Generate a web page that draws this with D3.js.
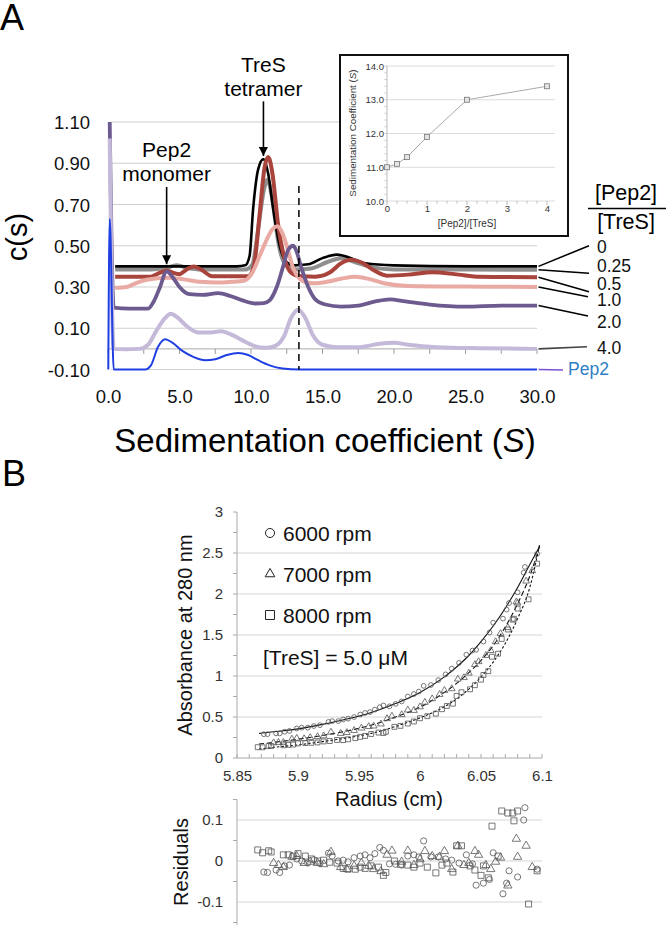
<!DOCTYPE html>
<html><head><meta charset="utf-8">
<script src="https://cdn.jsdelivr.net/npm/d3@7"></script>
<style>
body{margin:0;background:#fff}
svg{display:block}
text{font-family:Arial,"Liberation Sans",Helvetica,sans-serif}
</style>
</head><body>
<svg id="c" width="666" height="925"></svg>
<script>
// ================= DATA =================
// Panel A : c(s) distributions, [s, c(s)] pairs
const ratioLabels = ["0","0.25","0.5","1.0","2.0","4.0","Pep2"];
const cs_0 = [[0.5,0.40],[3,0.40],[6,0.40],[9.0,0.40],[9.6,0.405],[9.9,0.45],[10.15,0.68],[10.5,0.87],[10.87,0.92],[11.2,0.85],[11.55,0.68],[12.0,0.50],[12.5,0.42],[13.0,0.405],[14.0,0.41],[15.0,0.44],[16.0,0.457],[17.0,0.44],[18.0,0.415],[20,0.405],[25,0.40],[30,0.40]];
const cs_025 = [[0.5,0.385],[3,0.385],[4.0,0.392],[4.8,0.405],[5.6,0.392],[6.5,0.385],[9.6,0.385],[10.1,0.41],[10.5,0.58],[10.9,0.77],[11.15,0.82],[11.5,0.72],[11.9,0.52],[12.4,0.41],[13.2,0.385],[14.2,0.39],[15.3,0.42],[16.3,0.44],[17.3,0.42],[18.5,0.395],[20,0.385],[30,0.384]];
const cs_05 = [[0.5,0.35],[3.0,0.35],[3.6,0.368],[4.1,0.38],[4.6,0.368],[5.0,0.362],[5.5,0.385],[6.0,0.40],[6.5,0.385],[7.3,0.352],[9.8,0.352],[10.2,0.40],[10.6,0.65],[10.95,0.88],[11.2,0.93],[11.5,0.85],[11.9,0.60],[12.3,0.45],[12.8,0.37],[13.5,0.352],[14.5,0.35],[15.5,0.37],[16.3,0.415],[17.0,0.432],[17.7,0.42],[18.5,0.385],[19.5,0.355],[21,0.36],[22.7,0.372],[24.5,0.36],[26,0.35],[30,0.347]];
const cs_1 = [[0.5,0.296],[1.3,0.30],[2.0,0.32],[2.7,0.335],[4.2,0.345],[5.3,0.337],[6.5,0.325],[7.6,0.322],[8.6,0.325],[9.5,0.33],[10.1,0.37],[10.6,0.45],[11.1,0.53],[11.5,0.58],[11.84,0.594],[12.2,0.56],[12.5,0.50],[12.96,0.39],[13.4,0.34],[13.9,0.322],[14.5,0.318],[15.3,0.325],[16.3,0.34],[17.3,0.35],[18.3,0.338],[19.3,0.318],[21,0.305],[25,0.302],[30,0.30]];
const cs_2 = [[0.12,1.10],[0.4,0.20],[1.5,0.195],[2.8,0.195],[3.2,0.23],[3.64,0.30],[4.1,0.376],[4.55,0.345],[5.0,0.30],[5.7,0.265],[6.6,0.262],[7.7,0.27],[8.6,0.255],[9.4,0.235],[10.3,0.22],[10.9,0.222],[11.3,0.235],[11.8,0.30],[12.25,0.40],[12.6,0.48],[12.95,0.50],[13.2,0.47],[13.45,0.41],[14.0,0.30],[14.5,0.24],[15.2,0.215],[16.3,0.205],[17.5,0.21],[18.7,0.23],[19.7,0.24],[20.8,0.23],[22.5,0.215],[25,0.205],[27.5,0.21],[30,0.21]];
const cs_4 = [[0.12,1.02],[0.4,0.0],[1.2,-0.002],[2.2,0.0],[2.8,0.02],[3.4,0.09],[4.0,0.15],[4.4,0.17],[4.9,0.15],[5.5,0.11],[6.3,0.08],[7.2,0.08],[7.9,0.085],[8.6,0.07],[9.3,0.045],[10.2,0.015],[11.0,0.005],[11.7,0.015],[12.3,0.06],[12.8,0.15],[13.3,0.19],[13.8,0.15],[14.3,0.07],[15.0,0.02],[16.0,0.008],[17.5,0.008],[19.0,0.025],[20.0,0.03],[21.0,0.02],[23,0.008],[26,0.003],[30,0.0]];
const cs_pep2 = [[0.02,-0.10],[0.12,0.63],[0.4,-0.10],[1,-0.10],[2.6,-0.10],[3.0,-0.08],[3.5,0.01],[4.0,0.047],[4.5,0.03],[5.2,-0.01],[6.0,-0.04],[6.8,-0.055],[7.5,-0.05],[8.3,-0.03],[9.1,-0.02],[9.8,-0.03],[10.5,-0.055],[11.3,-0.08],[12.2,-0.095],[13.4,-0.10],[30,-0.10]];
const yTicksA = [-0.1,0.1,0.3,0.5,0.7,0.9,1.1];
const xTicksA = [0,5,10,15,20,25,30];

// Inset
const insetRatio = [0,0.25,0.5,1,2,4];
const insetSed = [11.0,11.1,11.3,11.9,13.0,13.4];
const insetYTicks = [10,11,12,13,14];
const insetXTicks = [0,1,2,3,4];

// Panel B : equilibrium data, radius (cm), absorbance, residual
const r6000 = [5.872,5.875,5.882,5.885,5.889,5.893,5.899,5.903,5.908,5.913,5.918,5.925,5.928,5.933,5.937,5.941,5.946,5.951,5.955,5.959,5.963,5.967,5.970,5.975,5.980,5.985,5.990,5.995,5.999,6.003,6.009,6.015,6.021,6.026,6.032,6.038,6.043,6.046,6.052,6.057,6.060,6.068,6.071,6.073,6.080,6.085,6.086,6.096];
const a6000 = [0.29,0.29,0.30,0.30,0.32,0.33,0.36,0.37,0.37,0.39,0.40,0.44,0.45,0.45,0.47,0.48,0.50,0.53,0.55,0.56,0.59,0.62,0.64,0.63,0.66,0.69,0.75,0.78,0.81,0.88,0.89,0.95,1.02,1.09,1.16,1.26,1.31,1.32,1.42,1.53,1.65,1.70,1.81,1.89,2.02,2.26,2.33,2.49];
const res6000 = [-0.027,-0.028,-0.022,-0.028,-0.012,-0.010,0.005,0.000,-0.005,0.003,-0.006,0.019,0.012,0.000,0.002,-0.002,0.008,0.012,0.015,0.008,0.018,0.033,0.026,-0.007,-0.008,-0.010,0.012,0.015,0.010,0.049,0.010,0.010,0.005,0.002,-0.005,0.015,-0.007,-0.059,-0.054,-0.045,0.020,-0.080,-0.054,-0.024,-0.039,0.100,0.130,-0.020];
const r7000 = [5.880,5.884,5.888,5.895,5.899,5.905,5.910,5.916,5.921,5.927,5.935,5.940,5.946,5.952,5.958,5.962,5.968,5.973,5.977,5.985,5.990,5.995,6.000,6.004,6.010,6.016,6.020,6.026,6.031,6.036,6.040,6.045,6.048,6.054,6.058,6.062,6.066,6.072,6.079,6.080,6.087,6.092];
const a7000 = [0.185,0.19,0.19,0.23,0.24,0.235,0.25,0.26,0.27,0.315,0.30,0.31,0.336,0.365,0.383,0.39,0.415,0.48,0.51,0.528,0.585,0.58,0.624,0.679,0.722,0.775,0.824,0.845,0.962,0.98,1.035,1.139,1.175,1.25,1.31,1.418,1.518,1.59,1.904,1.89,2.157,2.285];
const res7000 = [-0.005,-0.010,-0.015,0.010,0.012,-0.005,-0.002,-0.005,-0.008,0.022,-0.015,-0.020,-0.012,-0.005,-0.012,-0.020,-0.025,0.015,0.025,-0.002,0.025,-0.010,0.004,0.024,0.012,0.010,0.024,-0.020,0.037,-0.010,-0.005,0.024,0.015,-0.010,-0.020,-0.002,0.008,-0.060,0.054,0.010,0.037,-0.015];
const r8000 = [5.867,5.871,5.876,5.878,5.888,5.892,5.896,5.900,5.906,5.911,5.916,5.921,5.926,5.932,5.937,5.941,5.947,5.951,5.955,5.960,5.966,5.970,5.972,5.979,5.984,5.990,5.995,6.000,6.006,6.013,6.018,6.022,6.027,6.030,6.034,6.041,6.045,6.050,6.052,6.056,6.059,6.064,6.067,6.072,6.076,6.077,6.080,6.089,6.096];
const a8000 = [0.132,0.13,0.145,0.147,0.155,0.16,0.164,0.178,0.182,0.185,0.19,0.202,0.207,0.22,0.219,0.228,0.242,0.258,0.269,0.293,0.31,0.305,0.32,0.38,0.392,0.42,0.445,0.485,0.51,0.541,0.595,0.635,0.663,0.757,0.802,0.838,0.888,0.955,1.013,1.059,1.235,1.272,1.452,1.567,1.687,1.698,1.822,1.935,2.37];
const res8000 = [0.027,0.020,0.025,0.022,0.015,0.015,0.012,0.018,0.012,0.005,0.000,0.002,-0.003,-0.005,-0.018,-0.020,-0.020,-0.015,-0.018,-0.012,-0.015,-0.035,-0.028,0.000,-0.008,-0.010,-0.015,-0.005,-0.015,-0.029,-0.010,-0.005,-0.027,0.037,0.037,-0.012,-0.022,-0.035,-0.012,-0.041,0.085,0.012,0.122,0.117,0.117,0.098,0.122,-0.105,-0.024];
// fitted curves
const fitR = [5.868,5.88,5.90,5.92,5.94,5.96,5.98,6.00,6.02,6.03,6.04,6.05,6.06,6.07,6.08,6.09,6.098];
const fit6000 = [0.30,0.32,0.355,0.41,0.475,0.555,0.665,0.80,0.99,1.11,1.25,1.42,1.61,1.83,2.08,2.36,2.58];
const fit7000 = [0.17,0.19,0.23,0.275,0.33,0.40,0.50,0.62,0.80,0.91,1.04,1.19,1.37,1.60,1.88,2.22,2.58];
const fit8000 = [0.11,0.13,0.16,0.20,0.245,0.30,0.385,0.49,0.625,0.72,0.84,0.99,1.17,1.40,1.70,2.08,2.60];
const speedLabels = ["6000 rpm","7000 rpm","8000 rpm"];
const yTicksB = [0,0.5,1,1.5,2,2.5,3];
const xTicksB = [5.85,5.9,5.95,6,6.05,6.1];
const yTicksR = [-0.1,0,0.1];

// ================= DRAW =================
const svg = d3.select('#c');
const FONT = 'Arial, "Liberation Sans", Helvetica, sans-serif';

// ---------- Panel A ----------
const xA = d3.scaleLinear().domain([0,30]).range([108,537]);
const yA = d3.scaleLinear().domain([-0.1,1.1]).range([369.5,122]);

svg.append('text').attr('x',0).attr('y',30).attr('font-size',36).text('A');

const gA = svg.append('g');
gA.selectAll('line.grid').data(yTicksA).join('line')
  .attr('x1',xA(0)+3).attr('x2',xA(30)).attr('y1',d=>yA(d)).attr('y2',d=>yA(d))
  .attr('stroke','#cfcfcf').attr('stroke-width',1.2);
gA.append('line').attr('x1',xA(0)).attr('x2',xA(30)).attr('y1',yA(0)).attr('y2',yA(0)).attr('stroke','#aaa');
gA.selectAll('line.xt').data(d3.range(0,30.01,2.5)).join('line')
  .attr('x1',d=>xA(d)).attr('x2',d=>xA(d)).attr('y1',yA(0)).attr('y2',yA(0)+5).attr('stroke','#999');

const ayA = gA.append('g').attr('transform','translate(90,0)')
  .call(d3.axisLeft(yA).tickValues(yTicksA).tickSize(0).tickPadding(0).tickFormat(d=>d.toFixed(2)));
ayA.select('.domain').remove();
ayA.selectAll('text').attr('font-size',18.5).attr('fill','#111').attr('font-family',FONT).attr('dy','0.36em');
const axA = gA.append('g').attr('transform','translate(0,389.5)')
  .call(d3.axisBottom(xA).tickValues(xTicksA).tickSize(0).tickPadding(0).tickFormat(d=>d.toFixed(1)));
axA.select('.domain').remove();
axA.selectAll('text').attr('font-size',18.5).attr('fill','#111').attr('font-family',FONT);

svg.append('text').attr('transform','translate(27,237) rotate(-90)').attr('text-anchor','middle')
  .attr('font-size',29).text('c(s)');
const xt = svg.append('text').attr('x',325).attr('y',452).attr('text-anchor','middle').attr('font-size',33);
xt.append('tspan').text('Sedimentation coefficient (');
xt.append('tspan').attr('font-style','italic').text('S');
xt.append('tspan').text(')');

const seriesA = [cs_0,cs_025,cs_05,cs_1,cs_2,cs_4,cs_pep2];
const styleA = [
  {c:'#000000',w:2.6},{c:'#8e8e8e',w:4},{c:'#a9443d',w:4},{c:'#e9aaa4',w:4},
  {c:'#6d5a8e',w:3.8},{c:'#c4b9d9',w:4},{c:'#1f3fe3',w:2}];
const drawOrder = [1,0,2,3,4,5,6];
const lineA = d3.line().x(d=>xA(d[0])).y(d=>yA(d[1])).curve(d3.curveMonotoneX);
drawOrder.forEach(i=>{
  gA.append('path').attr('d',lineA(seriesA[i])).attr('fill','none')
    .attr('stroke',styleA[i].c).attr('stroke-width',styleA[i].w).attr('stroke-linejoin','round');
});

gA.append('line').attr('x1',xA(13.35)).attr('x2',xA(13.35)).attr('y1',yA(0.79)).attr('y2',yA(-0.1))
  .attr('stroke','#000').attr('stroke-width',1.5).attr('stroke-dasharray','7,5');

const defs = svg.append('defs');
defs.append('marker').attr('id','ah').attr('viewBox','0 0 10 10').attr('refX',10).attr('refY',5)
  .attr('markerWidth',9).attr('markerHeight',9).attr('markerUnits','userSpaceOnUse').attr('orient','auto')
  .append('path').attr('d','M0,0 L10,5 L0,10 Z').attr('fill','#000');
function arrow(s,c1,c2){
  gA.append('line').attr('x1',xA(s)).attr('x2',xA(s)).attr('y1',yA(c1)).attr('y2',yA(c2))
    .attr('stroke','#000').attr('stroke-width',1.6).attr('marker-end','url(#ah)');
}
arrow(10.87,1.20,0.935);
arrow(4.1,0.785,0.41);
svg.append('text').attr('x',xA(10.87)).attr('y',72).attr('text-anchor','middle').attr('font-size',21).text('TreS');
svg.append('text').attr('x',xA(10.87)).attr('y',96).attr('text-anchor','middle').attr('font-size',21).text('tetramer');
svg.append('text').attr('x',xA(4.1)).attr('y',157).attr('text-anchor','middle').attr('font-size',21).text('Pep2');
svg.append('text').attr('x',xA(4.1)).attr('y',181).attr('text-anchor','middle').attr('font-size',21).text('monomer');

svg.append('text').attr('x',626).attr('y',200).attr('text-anchor','middle').attr('font-size',21.5).text('[Pep2]');
svg.append('line').attr('x1',588).attr('x2',666).attr('y1',208.5).attr('y2',208.5).attr('stroke','#000').attr('stroke-width',1.6);
svg.append('text').attr('x',626).attr('y',229).attr('text-anchor','middle').attr('font-size',21.5).text('[TreS]');
const labelY = [253,272,289.5,306,328,354,375];
const leadEndY = [245.7,273.3,291.7,296.7,316,346.7,370];
const leadEndX = [589,589,589,588,588,587,563];
const leadColor = ['#000','#000','#000','#000','#000','#444','#7b52d6'];
seriesA.forEach((ser,i)=>{
  const last = ser[ser.length-1];
  svg.append('line').attr('x1',xA(30)+1.5).attr('y1',yA(last[1])).attr('x2',leadEndX[i]).attr('y2',leadEndY[i])
    .attr('stroke',leadColor[i]).attr('stroke-width',1.6);
  svg.append('text').attr('x',i===6?568:597).attr('y',labelY[i]).attr('font-size',17.5)
    .attr('fill',i===6?'#2f7fc6':'#111').text(ratioLabels[i]);
});

// ---------- Inset ----------
const xI = d3.scaleLinear().domain([0,4]).range([387,547]);
const yI = d3.scaleLinear().domain([10,14]).range([201,66]);
const gI = svg.append('g');
gI.append('rect').attr('x',340).attr('y',55).attr('width',228).attr('height',181)
  .attr('fill','#fff').attr('stroke','#111').attr('stroke-width',2);
gI.selectAll('line.ig').data(insetYTicks).join('line')
  .attr('x1',xI(0)).attr('x2',555).attr('y1',d=>yI(d)).attr('y2',d=>yI(d)).attr('stroke','#dcdcdc');
gI.append('line').attr('x1',xI(0)).attr('x2',xI(0)).attr('y1',yI(14)).attr('y2',yI(10)).attr('stroke','#bbb');
gI.selectAll('line.ixt').data(d3.range(0,4.01,0.25)).join('line')
  .attr('x1',d=>xI(d)).attr('x2',d=>xI(d)).attr('y1',yI(10)).attr('y2',d=>yI(10)+(d%1===0?4:2.5)).attr('stroke','#bbb');
gI.selectAll('line.iyt').data(d3.range(10,14.01,0.2)).join('line')
  .attr('x1',xI(0)-2.5).attr('x2',xI(0)).attr('y1',d=>yI(d)).attr('y2',d=>yI(d)).attr('stroke','#ccc');
const ayI = gI.append('g').attr('transform','translate(384,0)')
  .call(d3.axisLeft(yI).tickValues(insetYTicks).tickSize(0).tickPadding(0).tickFormat(d=>d.toFixed(1)));
ayI.select('.domain').remove();
ayI.selectAll('text').attr('font-size',9.5).attr('fill','#333').attr('font-family',FONT);
const axI = gI.append('g').attr('transform','translate(0,205.5)')
  .call(d3.axisBottom(xI).tickValues(insetXTicks).tickSize(0).tickPadding(0).tickFormat(d=>String(d)));
axI.select('.domain').remove();
axI.selectAll('text').attr('font-size',9.5).attr('fill','#333').attr('font-family',FONT);
gI.append('text').attr('x',xI(2)).attr('y',227).attr('text-anchor','middle').attr('font-size',10).attr('fill','#333').text('[Pep2]/[TreS]');
const it = gI.append('text').attr('transform','translate(356,133) rotate(-90)').attr('text-anchor','middle').attr('font-size',9.8).attr('fill','#333');
it.append('tspan').text('Sedimentation Coefficient (');
it.append('tspan').attr('font-style','italic').text('S');
it.append('tspan').text(')');
const insetPts = insetRatio.map((r,i)=>[r,insetSed[i]]);
gI.append('path').attr('d',d3.line().x(d=>xI(d[0])).y(d=>yI(d[1]))(insetPts)).attr('fill','none').attr('stroke','#aaa').attr('stroke-width',1);
gI.selectAll('rect.ip').data(insetPts).join('rect')
  .attr('x',d=>xI(d[0])-2.5).attr('y',d=>yI(d[1])-2.5).attr('width',5).attr('height',5)
  .attr('fill','#e4e4e4').attr('stroke','#777').attr('stroke-width',0.8);

// ---------- Panel B ----------
svg.append('text').attr('x',2).attr('y',486).attr('font-size',36).text('B');
const xB = d3.scaleLinear().domain([5.85,6.1]).range([237,542]);
const yB = d3.scaleLinear().domain([0,3]).range([758,512]);
const yR = d3.scaleLinear().domain([-0.15,0.15]).range([922.5,799.5]);
const gB = svg.append('g');
gB.selectAll('line.bg').data(yTicksB.slice(1,-1)).join('line')
  .attr('x1',xB(5.85)).attr('x2',xB(6.1)).attr('y1',d=>yB(d)).attr('y2',d=>yB(d)).attr('stroke','#d6d6d6').attr('stroke-width',1.2);
gB.append('line').attr('x1',xB(5.85)).attr('x2',xB(5.85)).attr('y1',yB(3)).attr('y2',yB(0)).attr('stroke','#aaa');
gB.append('line').attr('x1',xB(5.85)).attr('x2',xB(6.1)).attr('y1',yB(0)).attr('y2',yB(0)).attr('stroke','#aaa');
gB.selectAll('line.byt').data(d3.range(0,3.01,0.25)).join('line')
  .attr('x1',xB(5.85)-4).attr('x2',xB(5.85)).attr('y1',d=>yB(d)).attr('y2',d=>yB(d)).attr('stroke','#aaa');
gB.selectAll('line.bxt').data(d3.range(0,25.5,1)).join('line')
  .attr('x1',d=>xB(5.85+d*0.01)).attr('x2',d=>xB(5.85+d*0.01)).attr('y1',yB(0)-4).attr('y2',yB(0)).attr('stroke','#aaa');
const ayB = gB.append('g').attr('transform','translate(223,0)')
  .call(d3.axisLeft(yB).tickValues(yTicksB).tickSize(0).tickPadding(0).tickFormat(d=>String(d)));
ayB.select('.domain').remove();
ayB.selectAll('text').attr('font-size',15).attr('fill','#333').attr('font-family',FONT);
const axB = gB.append('g').attr('transform','translate(0,770)')
  .call(d3.axisBottom(xB).tickValues(xTicksB).tickSize(0).tickPadding(0).tickFormat(d=>String(+d.toFixed(2))));
axB.select('.domain').remove();
axB.selectAll('text').attr('font-size',15).attr('fill','#333').attr('font-family',FONT);
svg.append('text').attr('transform','translate(192,635) rotate(-90)').attr('text-anchor','middle').attr('font-size',20).attr('fill','#111').text('Absorbance at 280 nm');
svg.append('text').attr('x',389).attr('y',806).attr('text-anchor','middle').attr('font-size',20).attr('fill','#111').text('Radius (cm)');

const fits = [fit6000,fit7000,fit8000];
const dashes = [null,'5,3','2.5,2'];
const lineB = d3.line().x(d=>xB(d[0])).y(d=>yB(d[1])).curve(d3.curveMonotoneX);
fits.forEach((f,k)=>{
  gB.append('path').attr('d',lineB(fitR.map((r,i)=>[r,f[i]]))).attr('fill','none')
    .attr('stroke','#111').attr('stroke-width',1.1).attr('stroke-dasharray',dashes[k]);
});
const symTypes = [d3.symbolCircle,d3.symbolTriangle,d3.symbolSquare];
const symSizeMain = [18,20,24];
const symSizeRes = [30,30,36];
const datasets = [[r6000,a6000,res6000],[r7000,a7000,res7000],[r8000,a8000,res8000]];
datasets.forEach((ds,k)=>{
  const pts = ds[0].map((r,i)=>({r:r,a:ds[1][i],e:ds[2][i]}));
  gB.selectAll('path.m'+k).data(pts).join('path')
    .attr('transform',d=>`translate(${xB(d.r)},${yB(d.a)})`)
    .attr('d',d3.symbol().type(symTypes[k]).size(symSizeMain[k]))
    .attr('fill','none').attr('stroke','#555').attr('stroke-width',0.8);
});
const legY = [533,574,615];
speedLabels.forEach((lab,k)=>{
  gB.append('path').attr('transform',`translate(270,${legY[k]})`)
    .attr('d',d3.symbol().type(symTypes[k]).size(k===0?64:(k===1?40:80)))
    .attr('fill','none').attr('stroke','#222').attr('stroke-width',1);
  gB.append('text').attr('x',283).attr('y',legY[k]+8).attr('font-size',21).attr('fill','#111').text(lab);
});
gB.append('text').attr('x',263).attr('y',665).attr('font-size',21).attr('fill','#111').text('[TreS] = 5.0 \u03bcM');

// ---------- Residuals ----------
const gR = svg.append('g');
gR.selectAll('line.rg').data(yTicksR).join('line')
  .attr('x1',xB(5.85)).attr('x2',xB(6.1)).attr('y1',d=>yR(d)).attr('y2',d=>yR(d)).attr('stroke','#d6d6d6').attr('stroke-width',1.2);
gR.append('line').attr('x1',xB(5.85)).attr('x2',xB(5.85)).attr('y1',yR(0.15)).attr('y2',925).attr('stroke','#aaa');
gR.selectAll('line.ryt').data([-0.15,-0.05,0.05,0.15]).join('line')
  .attr('x1',xB(5.85)-4).attr('x2',xB(5.85)).attr('y1',d=>yR(d)).attr('y2',d=>yR(d)).attr('stroke','#aaa');
const ayR = gR.append('g').attr('transform','translate(223,0)')
  .call(d3.axisLeft(yR).tickValues(yTicksR).tickSize(0).tickPadding(0).tickFormat(d=>d===0?'0':d.toFixed(1)));
ayR.select('.domain').remove();
ayR.selectAll('text').attr('font-size',15).attr('fill','#333').attr('font-family',FONT);
svg.append('text').attr('transform','translate(188,862) rotate(-90)').attr('text-anchor','middle').attr('font-size',20).attr('fill','#111').text('Residuals');
datasets.forEach((ds,k)=>{
  const pts = ds[0].map((r,i)=>({r:r,e:ds[2][i]}));
  gR.selectAll('path.q'+k).data(pts).join('path')
    .attr('transform',d=>`translate(${xB(d.r)},${yR(d.e)})`)
    .attr('d',d3.symbol().type(symTypes[k]).size(symSizeRes[k]))
    .attr('fill','none').attr('stroke','#555').attr('stroke-width',0.8);
});
</script>
</body></html>
